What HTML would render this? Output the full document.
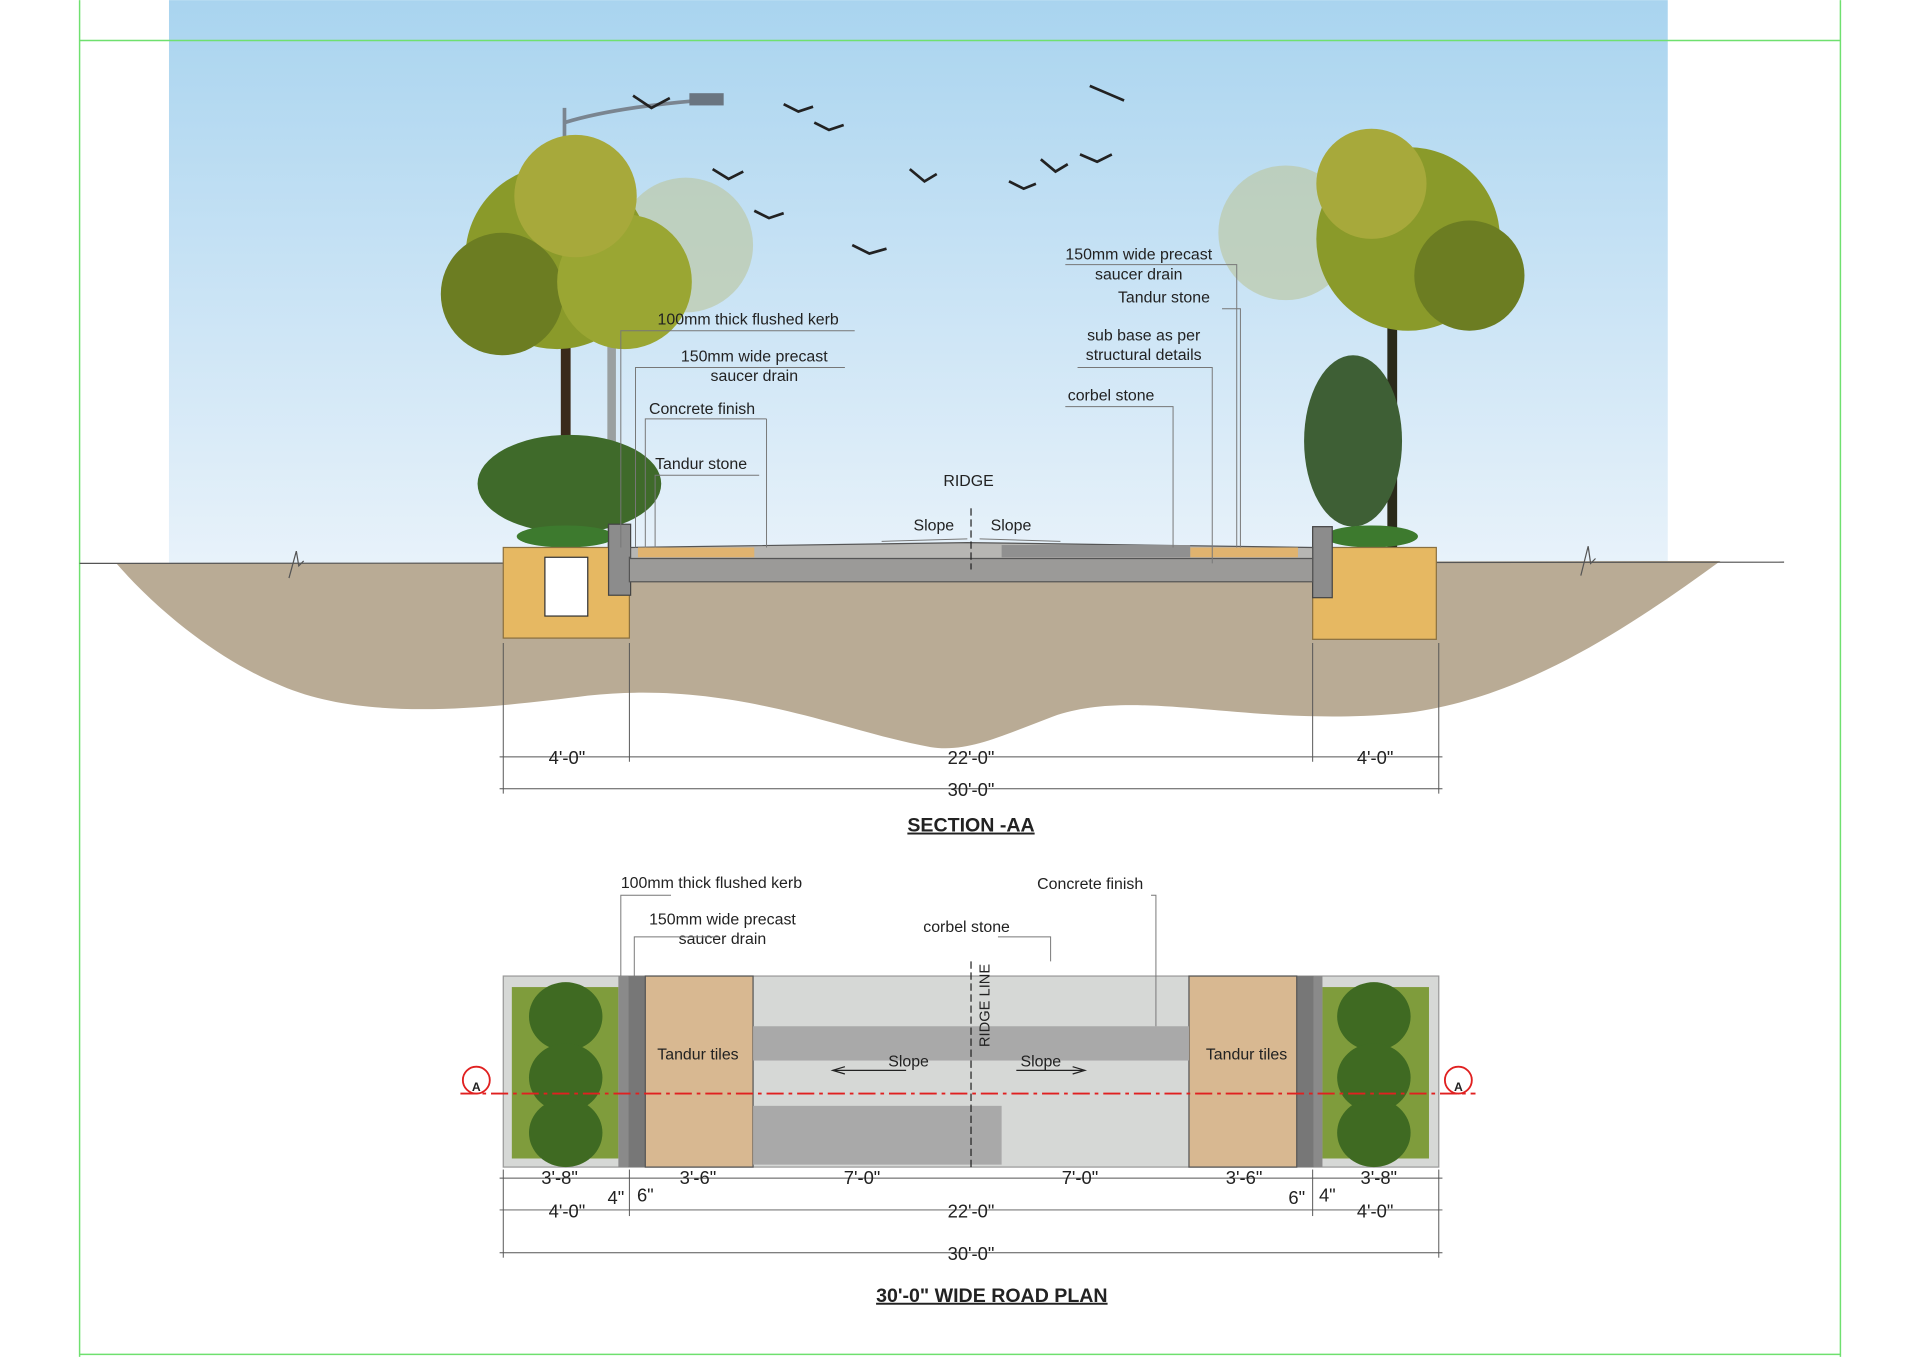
<!DOCTYPE html>
<html><head><meta charset="utf-8"><style>
html,body{margin:0;padding:0;background:#fff;width:1920px;height:1357px;overflow:hidden}
svg{display:block}
text{font-family:"Liberation Sans",sans-serif;fill:#222}
</style></head><body>
<svg width="1920" height="1357" viewBox="0 0 1568 1108" xmlns="http://www.w3.org/2000/svg">
<defs>
<linearGradient id="sky" x1="0" y1="0" x2="0" y2="1">
<stop offset="0" stop-color="#a9d4ef"/><stop offset="0.6" stop-color="#cfe6f6"/><stop offset="1" stop-color="#e8f2fa"/></linearGradient>
</defs>
<rect x="138" y="0" width="1224" height="462" fill="url(#sky)"/>
<g stroke="#6fe06f" stroke-width="1.2" fill="none">
<line x1="65" y1="0" x2="65" y2="1108"/><line x1="1503" y1="0" x2="1503" y2="1108"/>
<line x1="65" y1="33" x2="1503" y2="33"/><line x1="65" y1="1106" x2="1503" y2="1106"/>
</g>
<!-- ground -->
<path d="M95 460 L1405 458 C1320 520 1240 570 1150 582 C1020 595 930 560 860 585 C820 600 790 615 760 610 C690 598 600 555 480 568 C400 578 300 590 230 560 C180 540 130 500 95 460Z" fill="#b9ab95"/>
<line x1="65" y1="460" x2="1457" y2="459" stroke="#555" stroke-width="1"/>
<path d="M236 472 L242 450 L244 462 L248 458" stroke="#555" fill="none"/>
<path d="M1291 470 L1297 446 L1299 460 L1303 456" stroke="#555" fill="none"/>
<!-- street light -->
<path d="M461 140 L461 88 M461 100 Q500 88 570 82" stroke="#7a8590" stroke-width="3" fill="none"/>
<rect x="563" y="76" width="28" height="10" fill="#6a7580"/>
<!-- trees -->
<g>
<rect x="458" y="250" width="8" height="200" fill="#3a2a1a"/>
<rect x="496" y="250" width="7" height="200" fill="#9aa0a0"/>
<circle cx="560" cy="200" r="55" fill="#bcc9a8" opacity="0.7"/>
<circle cx="455" cy="210" r="75" fill="#8a9a2a"/>
<circle cx="410" cy="240" r="50" fill="#6c7d22"/>
<circle cx="510" cy="230" r="55" fill="#9aa633"/>
<circle cx="470" cy="160" r="50" fill="#a7a93b"/>
<ellipse cx="465" cy="395" rx="75" ry="40" fill="#3f6a2a"/>
<ellipse cx="462" cy="438" rx="40" ry="9" fill="#3d7a2e"/>
<rect x="1133" y="250" width="8" height="200" fill="#2a2a1a"/>
<circle cx="1050" cy="190" r="55" fill="#bcc9a8" opacity="0.7"/>
<circle cx="1150" cy="195" r="75" fill="#8a9a2a"/>
<circle cx="1200" cy="225" r="45" fill="#6c7d22"/>
<circle cx="1120" cy="150" r="45" fill="#a7a93b"/>
<ellipse cx="1105" cy="360" rx="40" ry="70" fill="#3e5f35"/>
<ellipse cx="1120" cy="438" rx="38" ry="9" fill="#3d7a2e"/>
</g>
<!-- birds -->
<g stroke="#222" stroke-width="2.2" fill="none">
<path d="M517 78 l15 10 l15 -8"/><path d="M640 85 l12 6 l12 -4"/><path d="M665 100 l12 6 l12 -4"/>
<path d="M582 138 l13 8 l12 -6"/><path d="M616 172 l12 6 l12 -4"/><path d="M696 200 l14 7 l14 -4"/>
<path d="M743 138 l12 10 l10 -6"/><path d="M824 148 l12 6 l10 -4"/><path d="M850 130 l12 10 l10 -6"/>
<path d="M882 126 l14 6 l12 -6"/><path d="M890 70 l14 6 l14 6"/>
</g>
<!-- planters -->
<rect x="411" y="447" width="103" height="74" fill="#e6b862" stroke="#8a7040"/>
<rect x="445" y="455" width="35" height="48" fill="#fff" stroke="#333"/>
<rect x="1072" y="447" width="101" height="75" fill="#e6b862" stroke="#8a7040"/>
<!-- road -->
<rect x="497" y="428" width="18" height="58" fill="#8c8c8c" stroke="#444"/>
<rect x="1072" y="430" width="16" height="58" fill="#8c8c8c" stroke="#444"/>
<rect x="514" y="455" width="558" height="20" fill="#9b9a98" stroke="#555"/>
<path d="M515 447 L790 443 L1072 447 L1072 456 L515 456Z" fill="#b7b6b3" stroke="#555"/>
<rect x="521" y="447" width="95" height="8" fill="#e0b36f"/>
<rect x="972" y="447" width="88" height="8" fill="#e0b36f"/>
<rect x="818" y="445" width="154" height="10" fill="#909090"/>
<line x1="793" y1="415" x2="793" y2="465" stroke="#222" stroke-dasharray="6,3"/>
<!-- section labels -->
<g font-size="13">
<text x="537" y="265">100mm thick flushed kerb</text>
<text x="616" y="295" text-anchor="middle">150mm wide precast</text>
<text x="616" y="311" text-anchor="middle">saucer drain</text>
<text x="530" y="338">Concrete finish</text>
<text x="535" y="383">Tandur stone</text>
<text x="791" y="397" text-anchor="middle">RIDGE</text>
<text x="746" y="433">Slope</text><text x="809" y="433">Slope</text>
<text x="930" y="212" text-anchor="middle">150mm wide precast</text>
<text x="930" y="228" text-anchor="middle">saucer drain</text>
<text x="913" y="247">Tandur stone</text>
<text x="934" y="278" text-anchor="middle">sub base as per</text>
<text x="934" y="294" text-anchor="middle">structural details</text>
<text x="872" y="327">corbel stone</text>
</g>
<g stroke="#777" stroke-width="0.8" fill="none">
<path d="M698 270 L507 270 L507 447"/><path d="M690 300 L519 300 L519 447"/>
<path d="M626 342 L527 342 L527 447"/><path d="M626 342 L626 447"/><path d="M620 388 L535 388 L535 447"/>
<path d="M720 442 L790 440"/><path d="M866 442 L800 440"/>
<path d="M870 216 L1010 216 L1010 447"/><path d="M998 252 L1013 252 L1013 447"/>
<path d="M880 300 L990 300 L990 460"/><path d="M870 332 L958 332 L958 447"/>
</g>
<!-- section dims -->
<g stroke="#555" stroke-width="0.8" fill="none">
<line x1="411" y1="525" x2="411" y2="648"/><line x1="514" y1="525" x2="514" y2="622"/>
<line x1="1072" y1="525" x2="1072" y2="622"/><line x1="1175" y1="525" x2="1175" y2="648"/>
<line x1="408" y1="618" x2="1178" y2="618"/><line x1="408" y1="644" x2="1178" y2="644"/>
</g>
<g font-size="15" text-anchor="middle">
<text x="463" y="624">4'-0"</text><text x="793" y="624">22'-0"</text><text x="1123" y="624">4'-0"</text>
<text x="793" y="650">30'-0"</text>
</g>
<text x="793" y="679" font-size="16" font-weight="bold" text-anchor="middle" text-decoration="underline">SECTION -AA</text>
<!-- plan -->
<rect x="411" y="797" width="764" height="156" fill="#d6d8d6" stroke="#999"/>
<rect x="418" y="806" width="87" height="140" fill="#7f9c3c"/>
<rect x="1080" y="806" width="87" height="140" fill="#7f9c3c"/>
<g fill="#3f6a22"><ellipse cx="462" cy="830" rx="30" ry="28"/><ellipse cx="462" cy="880" rx="30" ry="28"/><ellipse cx="462" cy="925" rx="30" ry="28"/>
<ellipse cx="1122" cy="830" rx="30" ry="28"/><ellipse cx="1122" cy="880" rx="30" ry="28"/><ellipse cx="1122" cy="925" rx="30" ry="28"/></g>
<rect x="505" y="797" width="8" height="156" fill="#8a8a8a"/><rect x="513" y="797" width="14" height="156" fill="#777"/>
<rect x="1059" y="797" width="14" height="156" fill="#777"/><rect x="1073" y="797" width="7" height="156" fill="#8a8a8a"/>
<rect x="527" y="797" width="88" height="156" fill="#d8b891" stroke="#555"/>
<rect x="971" y="797" width="88" height="156" fill="#d8b891" stroke="#555"/>
<rect x="615" y="838" width="356" height="28" fill="#a9a9a9"/>
<rect x="615" y="903" width="203" height="48" fill="#a9a9a9"/>
<line x1="793" y1="785" x2="793" y2="953" stroke="#222" stroke-dasharray="6,3"/>
<text transform="translate(808,855) rotate(-90)" font-size="12">RIDGE LINE</text>
<g font-size="13" text-anchor="middle">
<text x="570" y="865">Tandur tiles</text><text x="1018" y="865">Tandur tiles</text>
<text x="742" y="871">Slope</text><text x="850" y="871">Slope</text>
</g>
<path d="M740 874 L682 874 M690 871 L680 874 L690 877" stroke="#222" fill="none"/>
<path d="M830 874 L884 874 M876 871 L886 874 L876 877" stroke="#222" fill="none"/>
<line x1="376" y1="893" x2="1205" y2="893" stroke="#e02020" stroke-width="1.5" stroke-dasharray="14,4,3,4"/>
<g stroke="#e02020" fill="#fff" stroke-width="1.5"><circle cx="389" cy="882" r="11"/><circle cx="1191" cy="882" r="11"/></g>
<g font-size="10" font-weight="bold" text-anchor="middle"><text x="389" y="891">A</text><text x="1191" y="891">A</text></g>
<g font-size="13">
<text x="507" y="725">100mm thick flushed kerb</text>
<text x="590" y="755" text-anchor="middle">150mm wide precast</text>
<text x="590" y="771" text-anchor="middle">saucer drain</text>
<text x="754" y="761">corbel stone</text>
<text x="847" y="726">Concrete finish</text>
</g>
<g stroke="#777" stroke-width="0.8" fill="none">
<path d="M548 731 L507 731 L507 797"/><path d="M588 765 L518 765 L518 797"/>
<path d="M815 765 L858 765 L858 785"/><path d="M940 731 L944 731 L944 838"/>
</g>
<!-- plan dims -->
<g stroke="#555" stroke-width="0.8" fill="none">
<line x1="411" y1="955" x2="411" y2="1027"/><line x1="1175" y1="955" x2="1175" y2="1027"/>
<line x1="514" y1="955" x2="514" y2="993"/><line x1="1072" y1="955" x2="1072" y2="993"/>
<line x1="408" y1="962" x2="1178" y2="962"/><line x1="408" y1="988" x2="1178" y2="988"/><line x1="408" y1="1023" x2="1178" y2="1023"/>
</g>
<g font-size="15" text-anchor="middle">
<text x="457" y="967">3'-8"</text><text x="570" y="967">3'-6"</text><text x="704" y="967">7'-0"</text><text x="882" y="967">7'-0"</text>
<text x="1016" y="967">3'-6"</text><text x="1126" y="967">3'-8"</text>
<text x="503" y="983">4"</text><text x="527" y="981">6"</text><text x="1059" y="983">6"</text><text x="1084" y="981">4"</text>
<text x="463" y="994">4'-0"</text><text x="793" y="994">22'-0"</text><text x="1123" y="994">4'-0"</text>
<text x="793" y="1029">30'-0"</text>
</g>
<text x="810" y="1063" font-size="16" font-weight="bold" text-anchor="middle" text-decoration="underline">30'-0" WIDE ROAD PLAN</text>
</svg>
</body></html>
